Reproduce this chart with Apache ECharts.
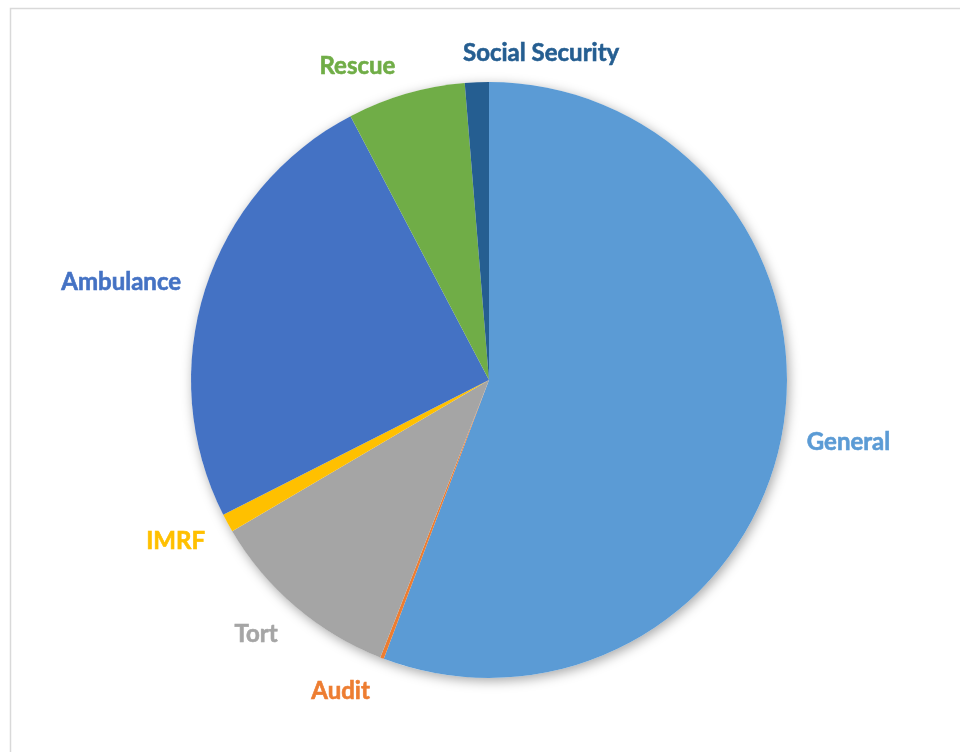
<!DOCTYPE html>
<html>
<head>
<meta charset="utf-8">
<script src="https://cdn.jsdelivr.net/npm/echarts@6/dist/echarts.min.js"></script>
<style>html,body{margin:0;padding:0;background:#fff}#c{width:960px;height:752px}</style>
</head>
<body>
<div id="c"></div>
<script>
const categories = ['General', 'Audit', 'Tort', 'IMRF', 'Ambulance', 'Rescue', 'Social Security'];
const values = [55.8, 0.2, 10.6, 1.0, 24.8, 6.4, 1.3];
const colors = ['#5B9BD5', '#ED7D31', '#A5A5A5', '#FFC000', '#4472C4', '#70AD47', '#255E91'];

const total = values.reduce((a, b) => a + b, 0);
const midAngles = [];
let acc = 0;
values.forEach(v => { midAngles.push((acc + v / 2) / total * 2 * Math.PI); acc += v; });

const chart = echarts.init(document.getElementById('c'));
chart.setOption({
  backgroundColor: '#fff',
  animation: false,
  graphic: [{
    type: 'rect', left: 8, top: 6, shape: { width: 1000, height: 800 },
    style: { fill: 'none', stroke: '#d9d9d9', lineWidth: 1.5 }, silent: true
  }],
  series: [
    {
      type: 'pie', silent: true, center: [489, 380], radius: 298, z: 1,
      label: { show: false }, labelLine: { show: false },
      data: [{ value: total, itemStyle: { color: '#fff', shadowBlur: 12, shadowColor: 'rgba(0,0,0,0.35)', shadowOffsetX: 2, shadowOffsetY: 3 } }]
    },
    {
      type: 'pie', center: [489, 380], radius: 298, startAngle: 90, clockwise: true, z: 2,
      avoidLabelOverlap: false,
      itemStyle: { borderWidth: 0 },
      label: {
        show: true, position: 'outside', formatter: '{b}',
        fontFamily: 'Lato', fontWeight: 'bold', fontSize: 24, distanceToLabelLine: 5
      },
      labelLine: { show: false, length: 20, length2: 0 },
      labelLayout: function (p) {
        const a = midAngles[p.dataIndex];
        const dy = -Math.cos(a) * p.labelRect.height / 2 + 3;
        if (categories[p.dataIndex] === 'Social Security') {
          return { align: 'left', dx: -8, dy: dy };
        }
        return { dy: dy };
      },
      data: categories.map((c, i) => ({
        name: c, value: values[i],
        itemStyle: { color: colors[i] },
        label: { color: colors[i], textBorderColor: colors[i], textBorderWidth: 0.6 }
      }))
    }
  ]
});
</script>
</body>
</html>
